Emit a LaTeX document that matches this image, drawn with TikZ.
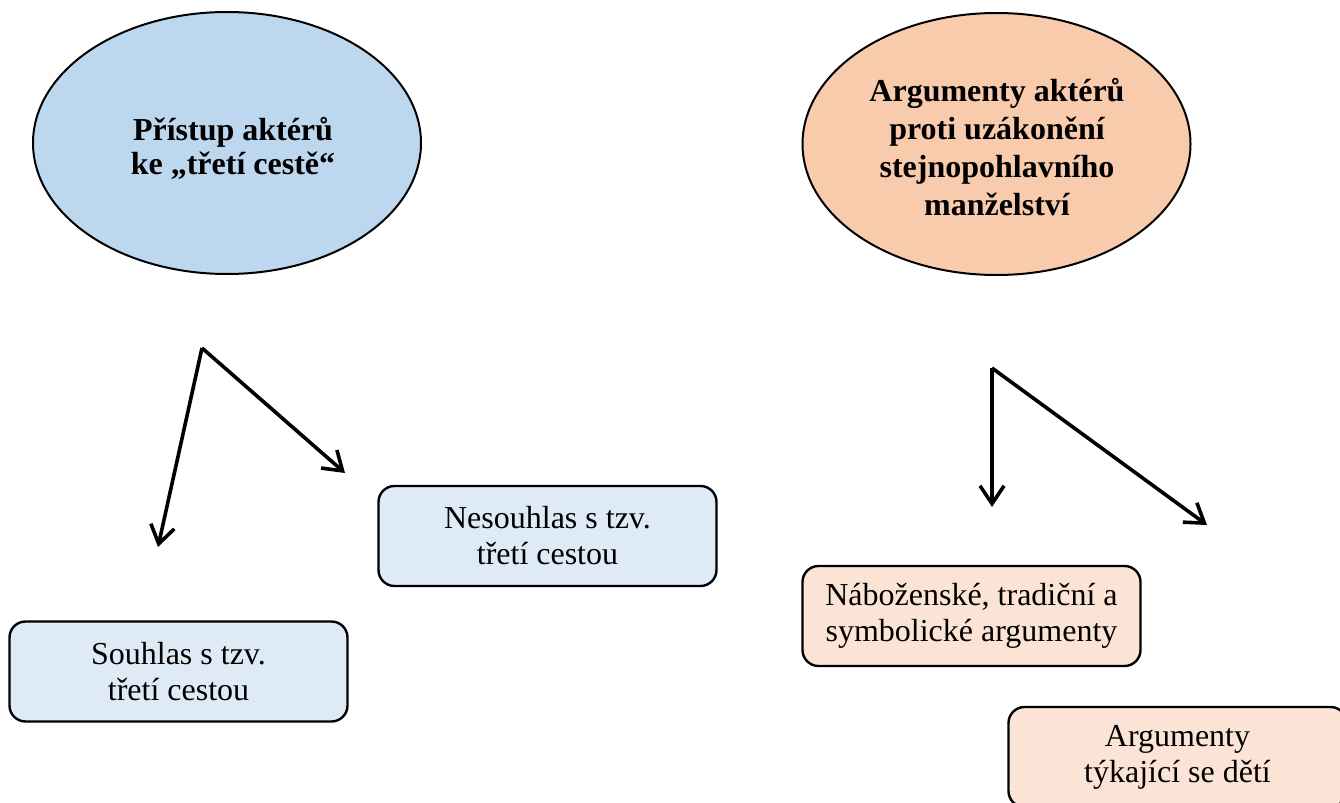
\documentclass[tikz,border=0pt]{standalone}
\usepackage{fontspec}
\setmainfont{Liberation Serif}
\usetikzlibrary{shapes.geometric,arrows.meta}

\definecolor{ovalblue}{HTML}{BDD7EE}
\definecolor{boxblue}{HTML}{DEEAF6}
\definecolor{ovalpeach}{HTML}{F8CBAD}
\definecolor{boxpeach}{HTML}{FBE4D5}

\tikzset{
	oval/.style={ellipse, draw, line width=1pt, inner sep=0pt, align=center,
		minimum width=194pt, minimum height=131pt,
		font=\fontsize{16}{17}\selectfont\bfseries},
	argbox/.style={rectangle, draw, line width=1.2pt, rounded corners=8pt,
		minimum width=169pt, minimum height=50pt, inner sep=0pt, align=center,
		font=\fontsize{16}{18}\selectfont},
	branch/.style={->, line width=1.8pt}
}

\begin{document}
\begin{tikzpicture}[x=0.5pt,y=-0.5pt,>={Straight Barb[length=9pt,width=12pt,line width=1.8pt]}]
			\useasboundingbox (0,0) rectangle (1340,803);

			% Main topics
			\node[oval, fill=ovalblue] (pristup) at (227,143) {};
			\node[font=\fontsize{16}{17}\selectfont\bfseries, align=center] (pristuptext) at (233,148) {Přístup aktérů\\ke „třetí cestě“};
			\node[oval, fill=ovalpeach] (proti) at (996.5,144) {};
			\node[font=\fontsize{16}{19}\selectfont\bfseries, align=center] (protitext) at (997,147) {Argumenty aktérů\\proti uzákonění\\stejnopohlavního\\manželství};

			% Boxes
			\node[argbox, fill=boxblue] (nesouhlas) at (547.5,536) {Nesouhlas s tzv.\\třetí cestou};
			\node[argbox, fill=boxblue] (souhlas) at (178.5,671.5) {Souhlas s tzv.\\třetí cestou};
			\node[argbox, fill=boxpeach] (nabozenske) at (971.5,616) {Náboženské, tradiční a\\symbolické argumenty};
			\node[argbox, fill=boxpeach] (deti) at (1177.5,757) {Argumenty\\týkající se dětí};

			% Arrows
			\coordinate (lroot) at (202,348);
			\coordinate (lleft) at (158,547);
			\coordinate (lright) at (345,473);
			\coordinate (rroot) at (992,368);
			\coordinate (rdown) at (992,507);
			\coordinate (rright) at (1207,525);
			\draw[branch] (lroot) -- (lleft);
			\draw[branch] (lroot) -- (lright);
			\draw[branch] (rroot) -- (rdown);
			\draw[branch] (rroot) -- (rright);
		\end{tikzpicture}
\end{document}
